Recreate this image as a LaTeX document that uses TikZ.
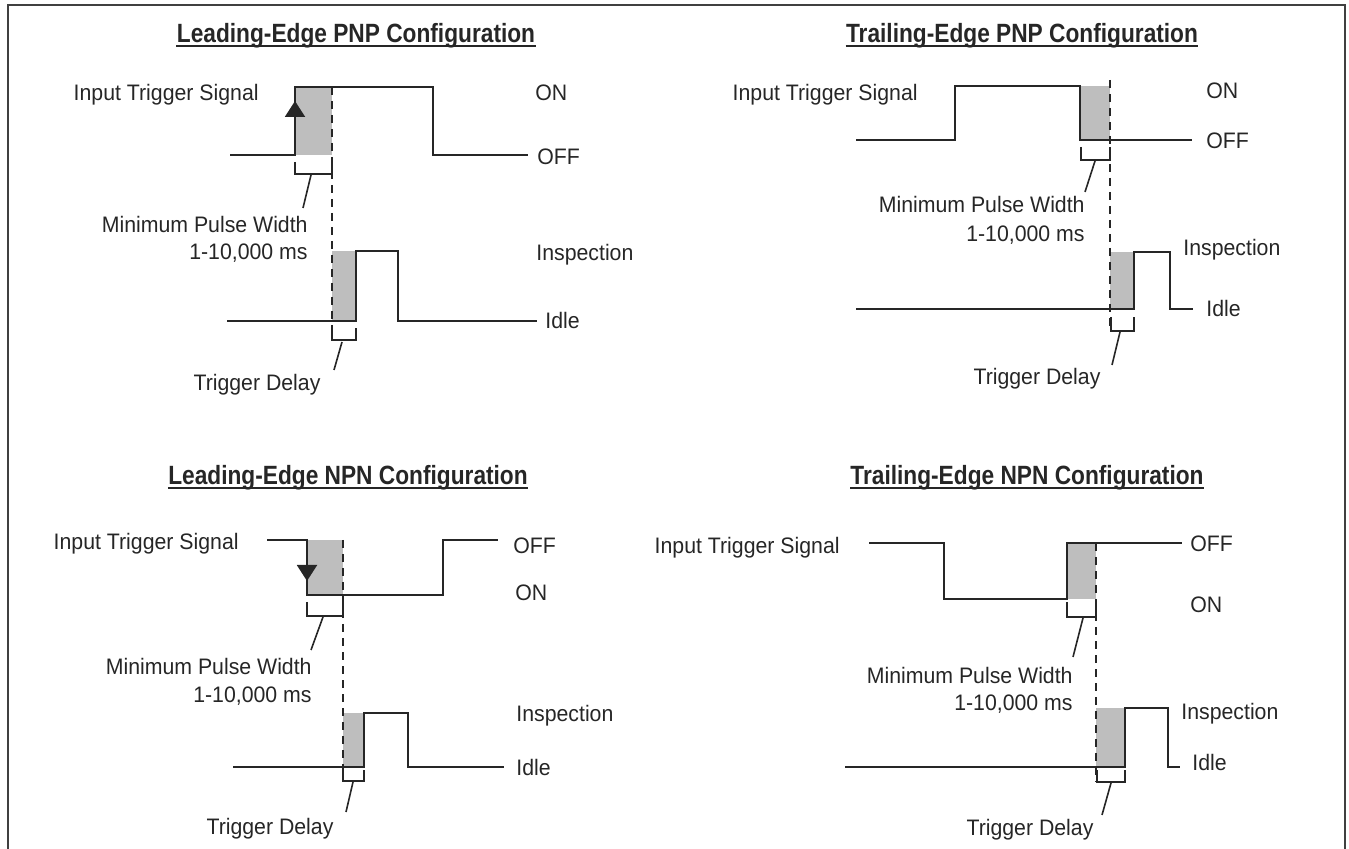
\documentclass[tikz,border=0pt]{standalone}
\usepackage{fontspec}
\setmainfont[FakeStretch=0.95]{Liberation Sans}
\newfontfamily\ttlfont[FakeStretch=0.86]{Liberation Sans}
\usetikzlibrary{arrows.meta}
\definecolor{SigGray}{RGB}{38,38,38}
\definecolor{PulseFill}{RGB}{190,190,190}

\begin{document}
\begin{tikzpicture}[
x=0.5pt,y=-0.5pt,
sig/.style={draw=SigGray,line width=1pt},
pulse/.style={fill=PulseFill},
guide/.style={draw=SigGray,line width=0.8pt,dash pattern=on 4pt off 3pt},
brk/.style={draw=SigGray,line width=0.8pt},
lead/.style={draw=SigGray,line width=0.8pt},
lbl/.style={inner sep=0pt,text=SigGray,font=\fontsize{11.2}{13.8}\selectfont},
ttl/.style={inner sep=0pt,anchor=base,text=SigGray,font=\ttlfont\fontsize{13.2}{15}\selectfont\bfseries},
uline/.style={draw=SigGray,line width=0.8pt},
trig/.style={draw=SigGray,line width=1pt,-{Triangle[length=8pt,width=10pt]}}
]
\useasboundingbox (0,0) rectangle (1349,849);
\draw[draw=black!75,line width=1.2pt] (8,855) -- (8,5) -- (1345,5) -- (1345,855);

\node[ttl] (lpnp) at (356,43) {Leading-Edge PNP Configuration};
\node[ttl] (tpnp) at (1022,43) {Trailing-Edge PNP Configuration};
\node[ttl] (lnpn) at (348,485) {Leading-Edge NPN Configuration};
\node[ttl] (tnpn) at (1027,485) {Trailing-Edge NPN Configuration};
\foreach \t in {lpnp,tpnp,lnpn,tnpn}
  \draw[uline] ([yshift=-1.6pt]\t.base west) -- ([yshift=-1.6pt]\t.base east);

% leading-edge PNP
\fill[pulse] (295,87) rectangle (332,155);
\fill[pulse] (332,251) rectangle (356,321);
\draw[guide] (332,87) -- (332,340);
\draw[sig] (230,155) -| (295,87) -| (433,155) -- (528,155);
\draw[sig] (227,321) -| (356,251) -| (398,321) -- (537,321);
\draw[trig] (295,135) -- (295,101);
\draw[brk] (295,162) |- (332,174) -- (332,162);
\draw[brk] (332,328) |- (356,340) -- (356,328);
\node[lbl,anchor=base east] (lpnpIn) at (259,101) {Input Trigger Signal};
\node[lbl,anchor=base west] (lpnpOn) at (535,101) {ON};
\node[lbl,anchor=base west] (lpnpOff) at (537,165) {OFF};
\node[lbl,anchor=base east] (lpnpMpw) at (308,233) {Minimum Pulse Width};
\node[lbl,anchor=base east] (lpnpMs) at (308,260) {1-10,000 ms};
\node[lbl,anchor=base west] (lpnpInsp) at (536,261) {Inspection};
\node[lbl,anchor=base west] (lpnpIdle) at (545,329) {Idle};
\node[lbl,anchor=base] (lpnpTd) at (257,391) {Trigger Delay};
\coordinate (lpnpB1) at (311,175);
\coordinate (lpnpL1) at (303,208);
\coordinate (lpnpB2) at (342,342);
\coordinate (lpnpL2) at (334,370);
\draw[lead] (lpnpB1) -- (lpnpL1);
\draw[lead] (lpnpB2) -- (lpnpL2);

% trailing-edge PNP
\fill[pulse] (1080,86) rectangle (1110,140);
\fill[pulse] (1110,252) rectangle (1134,309);
\draw[guide] (1110,80) -- (1110,331);
\draw[sig] (856,140) -| (955,86) -| (1080,140) -- (1192,140);
\draw[sig] (856,309) -| (1134,252) -| (1170,309) -- (1193,309);
\draw[brk] (1081,147) |- (1110,160) -- (1110,147);
\draw[brk] (1111,317) |- (1134,331) -- (1134,317);
\node[lbl,anchor=base east] (tpnpIn) at (918,101) {Input Trigger Signal};
\node[lbl,anchor=base west] (tpnpOn) at (1206,99) {ON};
\node[lbl,anchor=base west] (tpnpOff) at (1206,149) {OFF};
\node[lbl,anchor=base east] (tpnpMpw) at (1085,213) {Minimum Pulse Width};
\node[lbl,anchor=base east] (tpnpMs) at (1085,242) {1-10,000 ms};
\node[lbl,anchor=base west] (tpnpInsp) at (1183,256) {Inspection};
\node[lbl,anchor=base west] (tpnpIdle) at (1206,317) {Idle};
\node[lbl,anchor=base] (tpnpTd) at (1037,385) {Trigger Delay};
\coordinate (tpnpB1) at (1095,161);
\coordinate (tpnpL1) at (1085,192);
\coordinate (tpnpB2) at (1120,332);
\coordinate (tpnpL2) at (1112,365);
\draw[lead] (tpnpB1) -- (tpnpL1);
\draw[lead] (tpnpB2) -- (tpnpL2);

% leading-edge NPN
\fill[pulse] (307,540) rectangle (343,595);
\fill[pulse] (343,713) rectangle (364,767);
\draw[guide] (343,540) -- (343,781);
\draw[sig] (267,540) -| (307,595) -| (443,540) -- (498,540);
\draw[sig] (233,767) -| (364,713) -| (408,767) -- (504,767);
\draw[trig] (307,555) -- (307,581);
\draw[brk] (307,602) |- (343,616) -- (343,602);
\draw[brk] (343,770) |- (364,781) -- (364,770);
\node[lbl,anchor=base east] (lnpnIn) at (239,550) {Input Trigger Signal};
\node[lbl,anchor=base west] (lnpnOff) at (513,553) {OFF};
\node[lbl,anchor=base west] (lnpnOn) at (515,601) {ON};
\node[lbl,anchor=base east] (lnpnMpw) at (312,674) {Minimum Pulse Width};
\node[lbl,anchor=base east] (lnpnMs) at (312,702) {1-10,000 ms};
\node[lbl,anchor=base west] (lnpnInsp) at (516,721) {Inspection};
\node[lbl,anchor=base west] (lnpnIdle) at (516,775) {Idle};
\node[lbl,anchor=base] (lnpnTd) at (270,834) {Trigger Delay};
\coordinate (lnpnB1) at (323,617);
\coordinate (lnpnL1) at (311,650);
\coordinate (lnpnB2) at (353,782);
\coordinate (lnpnL2) at (346,812);
\draw[lead] (lnpnB1) -- (lnpnL1);
\draw[lead] (lnpnB2) -- (lnpnL2);

% trailing-edge NPN
\fill[pulse] (1067,543) rectangle (1096,599);
\fill[pulse] (1096,708) rectangle (1125,767);
\draw[guide] (1096,543) -- (1096,782);
\draw[sig] (869,543) -| (944,599) -| (1067,543) -- (1182,543);
\draw[sig] (845,767) -| (1125,708) -| (1168,767) -- (1180,767);
\draw[brk] (1067,602) |- (1096,617) -- (1096,602);
\draw[brk] (1097,770) |- (1125,782) -- (1125,770);
\node[lbl,anchor=base east] (tnpnIn) at (840,553) {Input Trigger Signal};
\node[lbl,anchor=base west] (tnpnOff) at (1190,552) {OFF};
\node[lbl,anchor=base west] (tnpnOn) at (1190,612) {ON};
\node[lbl,anchor=base east] (tnpnMpw) at (1073,683) {Minimum Pulse Width};
\node[lbl,anchor=base east] (tnpnMs) at (1073,710) {1-10,000 ms};
\node[lbl,anchor=base west] (tnpnInsp) at (1181,719) {Inspection};
\node[lbl,anchor=base west] (tnpnIdle) at (1192,770) {Idle};
\node[lbl,anchor=base] (tnpnTd) at (1030,835) {Trigger Delay};
\coordinate (tnpnB1) at (1083,618);
\coordinate (tnpnL1) at (1073,657);
\coordinate (tnpnB2) at (1111,783);
\coordinate (tnpnL2) at (1102,815);
\draw[lead] (tnpnB1) -- (tnpnL1);
\draw[lead] (tnpnB2) -- (tnpnL2);
\end{tikzpicture}
\end{document}
